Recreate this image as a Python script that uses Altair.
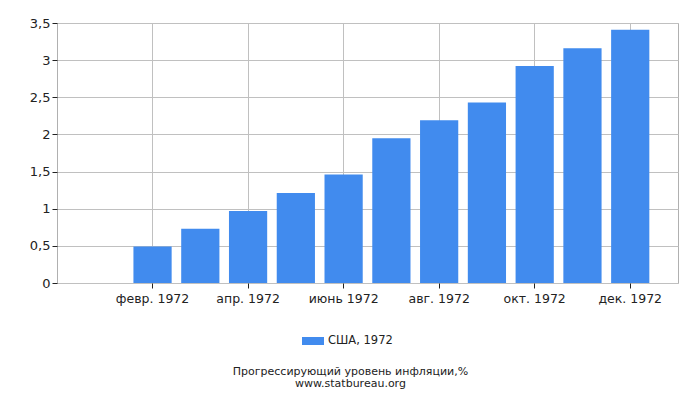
import altair as alt
import pandas as pd

months = ["янв. 1972", "февр. 1972", "март 1972", "апр. 1972", "май 1972", "июнь 1972",
          "июль 1972", "авг. 1972", "сент. 1972", "окт. 1972", "нояб. 1972", "дек. 1972"]
values = [0.0, 0.49, 0.73, 0.97, 1.21, 1.46, 1.95, 2.19, 2.43, 2.92, 3.16, 3.41]
shown_months = ["февр. 1972", "апр. 1972", "июнь 1972", "авг. 1972", "окт. 1972", "дек. 1972"]
y_ticks = [0, 0.5, 1, 1.5, 2, 2.5, 3, 3.5]
series = "США, 1972"

df = pd.DataFrame({"month": months, "value": values, "series": [series] * len(months)})

FONT = "DejaVu Sans"

chart = alt.Chart(df).mark_bar(color="#418bee").encode(
    x=alt.X("month:N", sort=months,
            scale=alt.Scale(domain=months, paddingInner=0.2, paddingOuter=0.6),
            axis=alt.Axis(title=None, values=shown_months, labelAngle=0,
                          grid=True, gridColor="#c0c0c0", tickColor="#222222",
                          tickSize=5, domain=False, labelFontSize=12.5,
                          labelColor="#222222", labelPadding=4, labelFont=FONT)),
    y=alt.Y("value:Q",
            scale=alt.Scale(domain=[0, 3.5], nice=False),
            axis=alt.Axis(title=None, values=y_ticks, grid=True, gridColor="#c0c0c0",
                          tickColor="#222222", tickSize=5, domain=False,
                          labelFontSize=13, labelColor="#222222", labelFont=FONT,
                          labelPadding=2,
                          labelExpr="replace(format(datum.value, '~g'), '.', ',')")),
    fill=alt.Fill("series:N",
                  scale=alt.Scale(domain=[series], range=["#418bee"]),
                  legend=alt.Legend(title=None, orient="none", legendX=246, legendY=308,
                                    symbolType="M-1.1,-0.4H1.1V0.4H-1.1Z", symbolSize=400,
                                    symbolStrokeWidth=0,
                                    labelFontSize=11.5, labelFont=FONT, labelColor="#222222",
                                    labelOffset=5)),
).properties(
    width=621,
    height=260,
    padding={"left": 49, "top": 15, "right": 14, "bottom": 112},
    autosize=alt.AutoSizeParams(type="none"),
    title=alt.TitleParams(text=["Прогрессирующий уровень инфляции,%", "www.statbureau.org"],
                          orient="bottom", anchor="middle", fontSize=11, font=FONT,
                          fontWeight="normal", color="#222222", offset=19, lineHeight=11.5,
                          dx=-17),
).configure_view(stroke="#b0b0b0", strokeWidth=1)

chart.save("out.html", embed_options={"renderer": "svg", "actions": False})
